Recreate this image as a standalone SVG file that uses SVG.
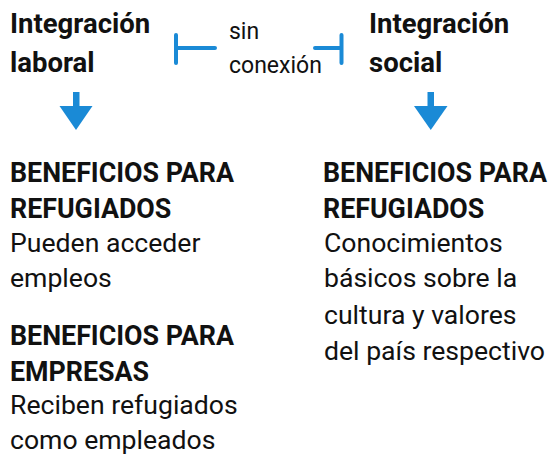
<svg xmlns="http://www.w3.org/2000/svg" width="549" height="464" viewBox="0 0 549 464">
<defs>
<style>
text{font-family:Roboto,"Liberation Sans",sans-serif;fill:#111}
.h{font-size:27.5px;font-weight:bold}
.b{font-size:26.8px;font-weight:bold}
.r{font-size:26.6px}
.s{font-size:23px}
.ln{stroke:#1a8ad6;stroke-width:4;stroke-linecap:round;fill:none}
.arr{fill:#1a8ad6}
</style>
</defs>
<rect width="549" height="464" fill="#fff"/>
<g id="integracion-laboral">
<text class="h" x="10" y="33">Integración</text>
<text class="h" x="10" y="72">laboral</text>
</g>
<g id="integracion-social">
<text class="h" x="369" y="33">Integración</text>
<text class="h" x="369" y="72">social</text>
</g>
<g id="sin-conexion">
<text class="s" x="229" y="39">sin</text>
<text class="s" x="229" y="73">conexión</text>
</g>
<g id="beneficios-laboral">
<text class="b" x="10" y="182">BENEFICIOS PARA</text>
<text class="b" x="10" y="218">REFUGIADOS</text>
<text class="r" x="10" y="252">Pueden acceder</text>
<text class="r" x="10" y="287">empleos</text>
<text class="b" x="10" y="345">BENEFICIOS PARA</text>
<text class="b" x="10" y="381">EMPRESAS</text>
<text class="r" x="10" y="414">Reciben refugiados</text>
<text class="r" x="10" y="449">como empleados</text>
</g>
<g id="beneficios-social">
<text class="b" x="323" y="182">BENEFICIOS PARA</text>
<text class="b" x="323" y="218">REFUGIADOS</text>
<text class="r" x="324" y="252">Conocimientos</text>
<text class="r" x="324" y="287">básicos sobre la</text>
<text class="r" x="324" y="324">cultura y valores</text>
<text class="r" x="324" y="360">del país respectivo</text>
</g>
<g id="connectors">
<path class="ln" d="M176 35V63M176 48H215"/>
<path class="ln" d="M341.5 35V63M341.5 48H315"/>
<rect class="arr" x="73" y="92" width="6.5" height="16"/>
<polygon class="arr" points="59.5,106 92.5,106 76,130"/>
<rect class="arr" x="427.5" y="92" width="6.5" height="16"/>
<polygon class="arr" points="414,106 447.5,106 430.75,130"/>
</g>
</svg>
